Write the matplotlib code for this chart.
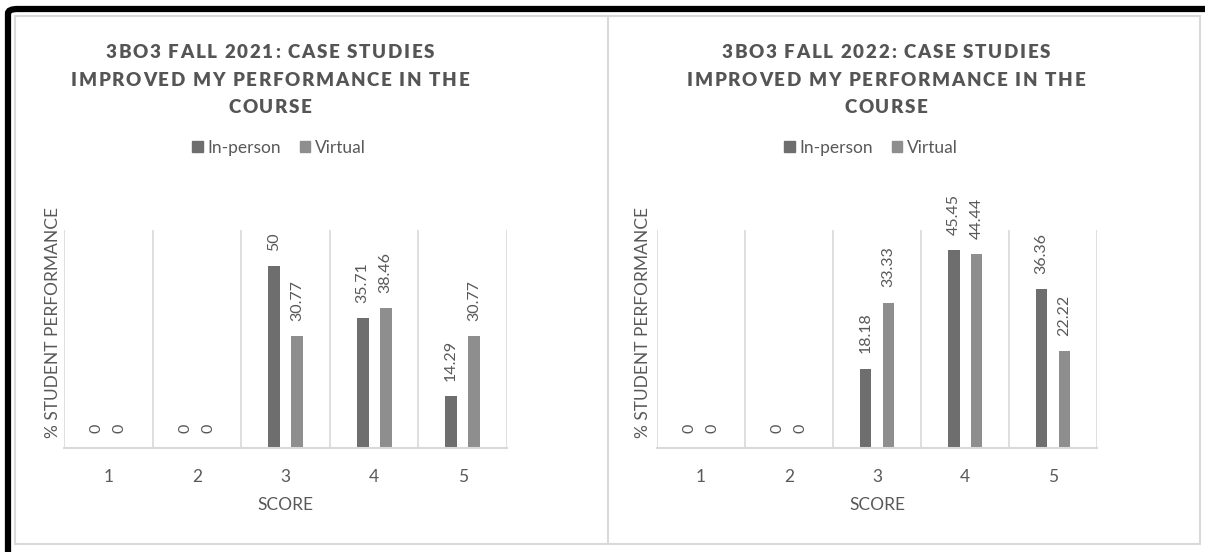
import matplotlib
matplotlib.use("Agg")
import matplotlib.pyplot as plt
import numpy as np
from matplotlib.font_manager import FontProperties, findfont
from matplotlib.ft2font import FT2Font
from matplotlib.patches import Rectangle, FancyBboxPatch, Patch
from matplotlib.lines import Line2D

# ---- data ----
scores = ["1", "2", "3", "4", "5"]
series_names = ["In-person", "Virtual"]
inperson_2021 = [0, 0, 50, 35.71, 14.29]
virtual_2021 = [0, 0, 30.77, 38.46, 30.77]
inperson_2022 = [0, 0, 18.18, 45.45, 36.36]
virtual_2022 = [0, 0, 33.33, 44.44, 22.22]
titles = [
    ["3BO3 FALL 2021: CASE STUDIES", "IMPROVED MY PERFORMANCE IN THE", "COURSE"],
    ["3BO3 FALL 2022: CASE STUDIES", "IMPROVED MY PERFORMANCE IN THE", "COURSE"],
]
y_max = [60, 50]

# ---- style ----
W, H, DPI = 1205, 552, 100
FONT = "Lato"
TEXT = "#595959"
GRID = "#d9d9d9"
C_IN = "#6e6e6e"
C_VIR = "#8e8e8e"

plt.rcParams["font.family"] = [FONT, "DejaVu Sans"]

fig = plt.figure(figsize=(W / DPI, H / DPI), dpi=DPI)
fig.patch.set_facecolor("white")


def fx(px):
    return px / W


def fy(py):
    return 1 - py / H


def spaced_line(xc, baseline, s, size, spacing):
    """Draw a bold, letter-spaced line of text centred on xc (pixels)."""
    fp = FontProperties(family=FONT, weight="heavy", size=size)
    font = FT2Font(findfont(fp))
    font.set_size(size, DPI)
    adv = [font.load_char(ord(c)).linearHoriAdvance / 65536 for c in s]
    total = sum(adv) + spacing * (len(s) - 1)
    x = xc - total / 2
    for c, a in zip(s, adv):
        fig.text(fx(x), fy(baseline), c, ha="left", va="baseline",
                 fontproperties=fp, color="#555555")
        x += a + spacing


# panel frames
fig.add_artist(Rectangle((fx(15), fy(544)), fx(1200) - fx(15), fy(16) - fy(544),
                         transform=fig.transFigure, fill=False,
                         edgecolor=GRID, lw=1.5))
fig.add_artist(Line2D([fx(608), fx(608)], [fy(544), fy(16)],
                      transform=fig.transFigure, color=GRID, lw=1.5))

# outer dark frame (left and top edges)
fig.add_artist(FancyBboxPatch((fx(8), fy(570)), fx(1240) - fx(8), fy(9) - fy(570),
                              boxstyle="round,pad=0,rounding_size=0.008",
                              transform=fig.transFigure, fill=False,
                              edgecolor="black", lw=4.5))

panels = [
    dict(ax=(64, 230, 507, 448), tx=270, lx=279, ylab=53,
         data=(inperson_2021, virtual_2021)),
    dict(ax=(657, 230, 1097, 448), tx=886, lx=871, ylab=643,
         data=(inperson_2022, virtual_2022)),
]

x = np.arange(len(scores))
bw = 0.135
off = 0.13

for i, p in enumerate(panels):
    l, t, r, b = p["ax"]
    ax = fig.add_axes([fx(l), fy(b), fx(r) - fx(l), fy(t) - fy(b)])
    ax.set_xlim(-0.5, len(scores) - 0.5)
    ax.set_ylim(0, y_max[i])
    for s in ["top", "right", "left"]:
        ax.spines[s].set_visible(False)
    ax.spines["bottom"].set_color(GRID)
    ax.spines["bottom"].set_linewidth(1.5)
    for bnd in np.arange(-0.5, len(scores), 1.0):
        ax.axvline(bnd, color=GRID, lw=1.2, zorder=0)
    ax.set_yticks([])
    ax.set_xticks(x)
    ax.set_xticklabels(scores)
    ax.tick_params(axis="x", length=0, pad=15, labelsize=12.5, labelcolor=TEXT)

    vin, vvir = p["data"]
    for vals, dx, col in ((vin, -off, C_IN), (vvir, off, C_VIR)):
        bars = ax.bar(x + dx, vals, width=bw, color=col, zorder=2)
        for rect, v in zip(bars, vals):
            ax.annotate(f"{v:g}", (rect.get_x() + rect.get_width() / 2, v),
                        xytext=(0, 11), textcoords="offset points",
                        rotation=90, ha="center", va="bottom",
                        fontsize=11.5, color=TEXT, annotation_clip=False)

    ax.set_xlabel("SCORE", fontsize=12.5, color=TEXT, labelpad=9)

    fig.text(fx(p["ylab"]), fy(323), "% STUDENT PERFORMANCE", rotation=90,
             ha="center", va="center", fontsize=12.5, color=TEXT)

    for line, base in zip(titles[i], (58, 86, 113)):
        spaced_line(p["tx"], base, line, 13.5, 1.7)

    handles = [Patch(color=C_IN), Patch(color=C_VIR)]
    fig.legend(handles, series_names, loc="center",
               bbox_to_anchor=(fx(p["lx"]), fy(148)), ncol=2, frameon=False,
               fontsize=12.5, handlelength=0.6, handleheight=0.6,
               handletextpad=0.25, columnspacing=1.1,
               labelcolor=TEXT)

fig.savefig("out.png", dpi=DPI, facecolor="white")
